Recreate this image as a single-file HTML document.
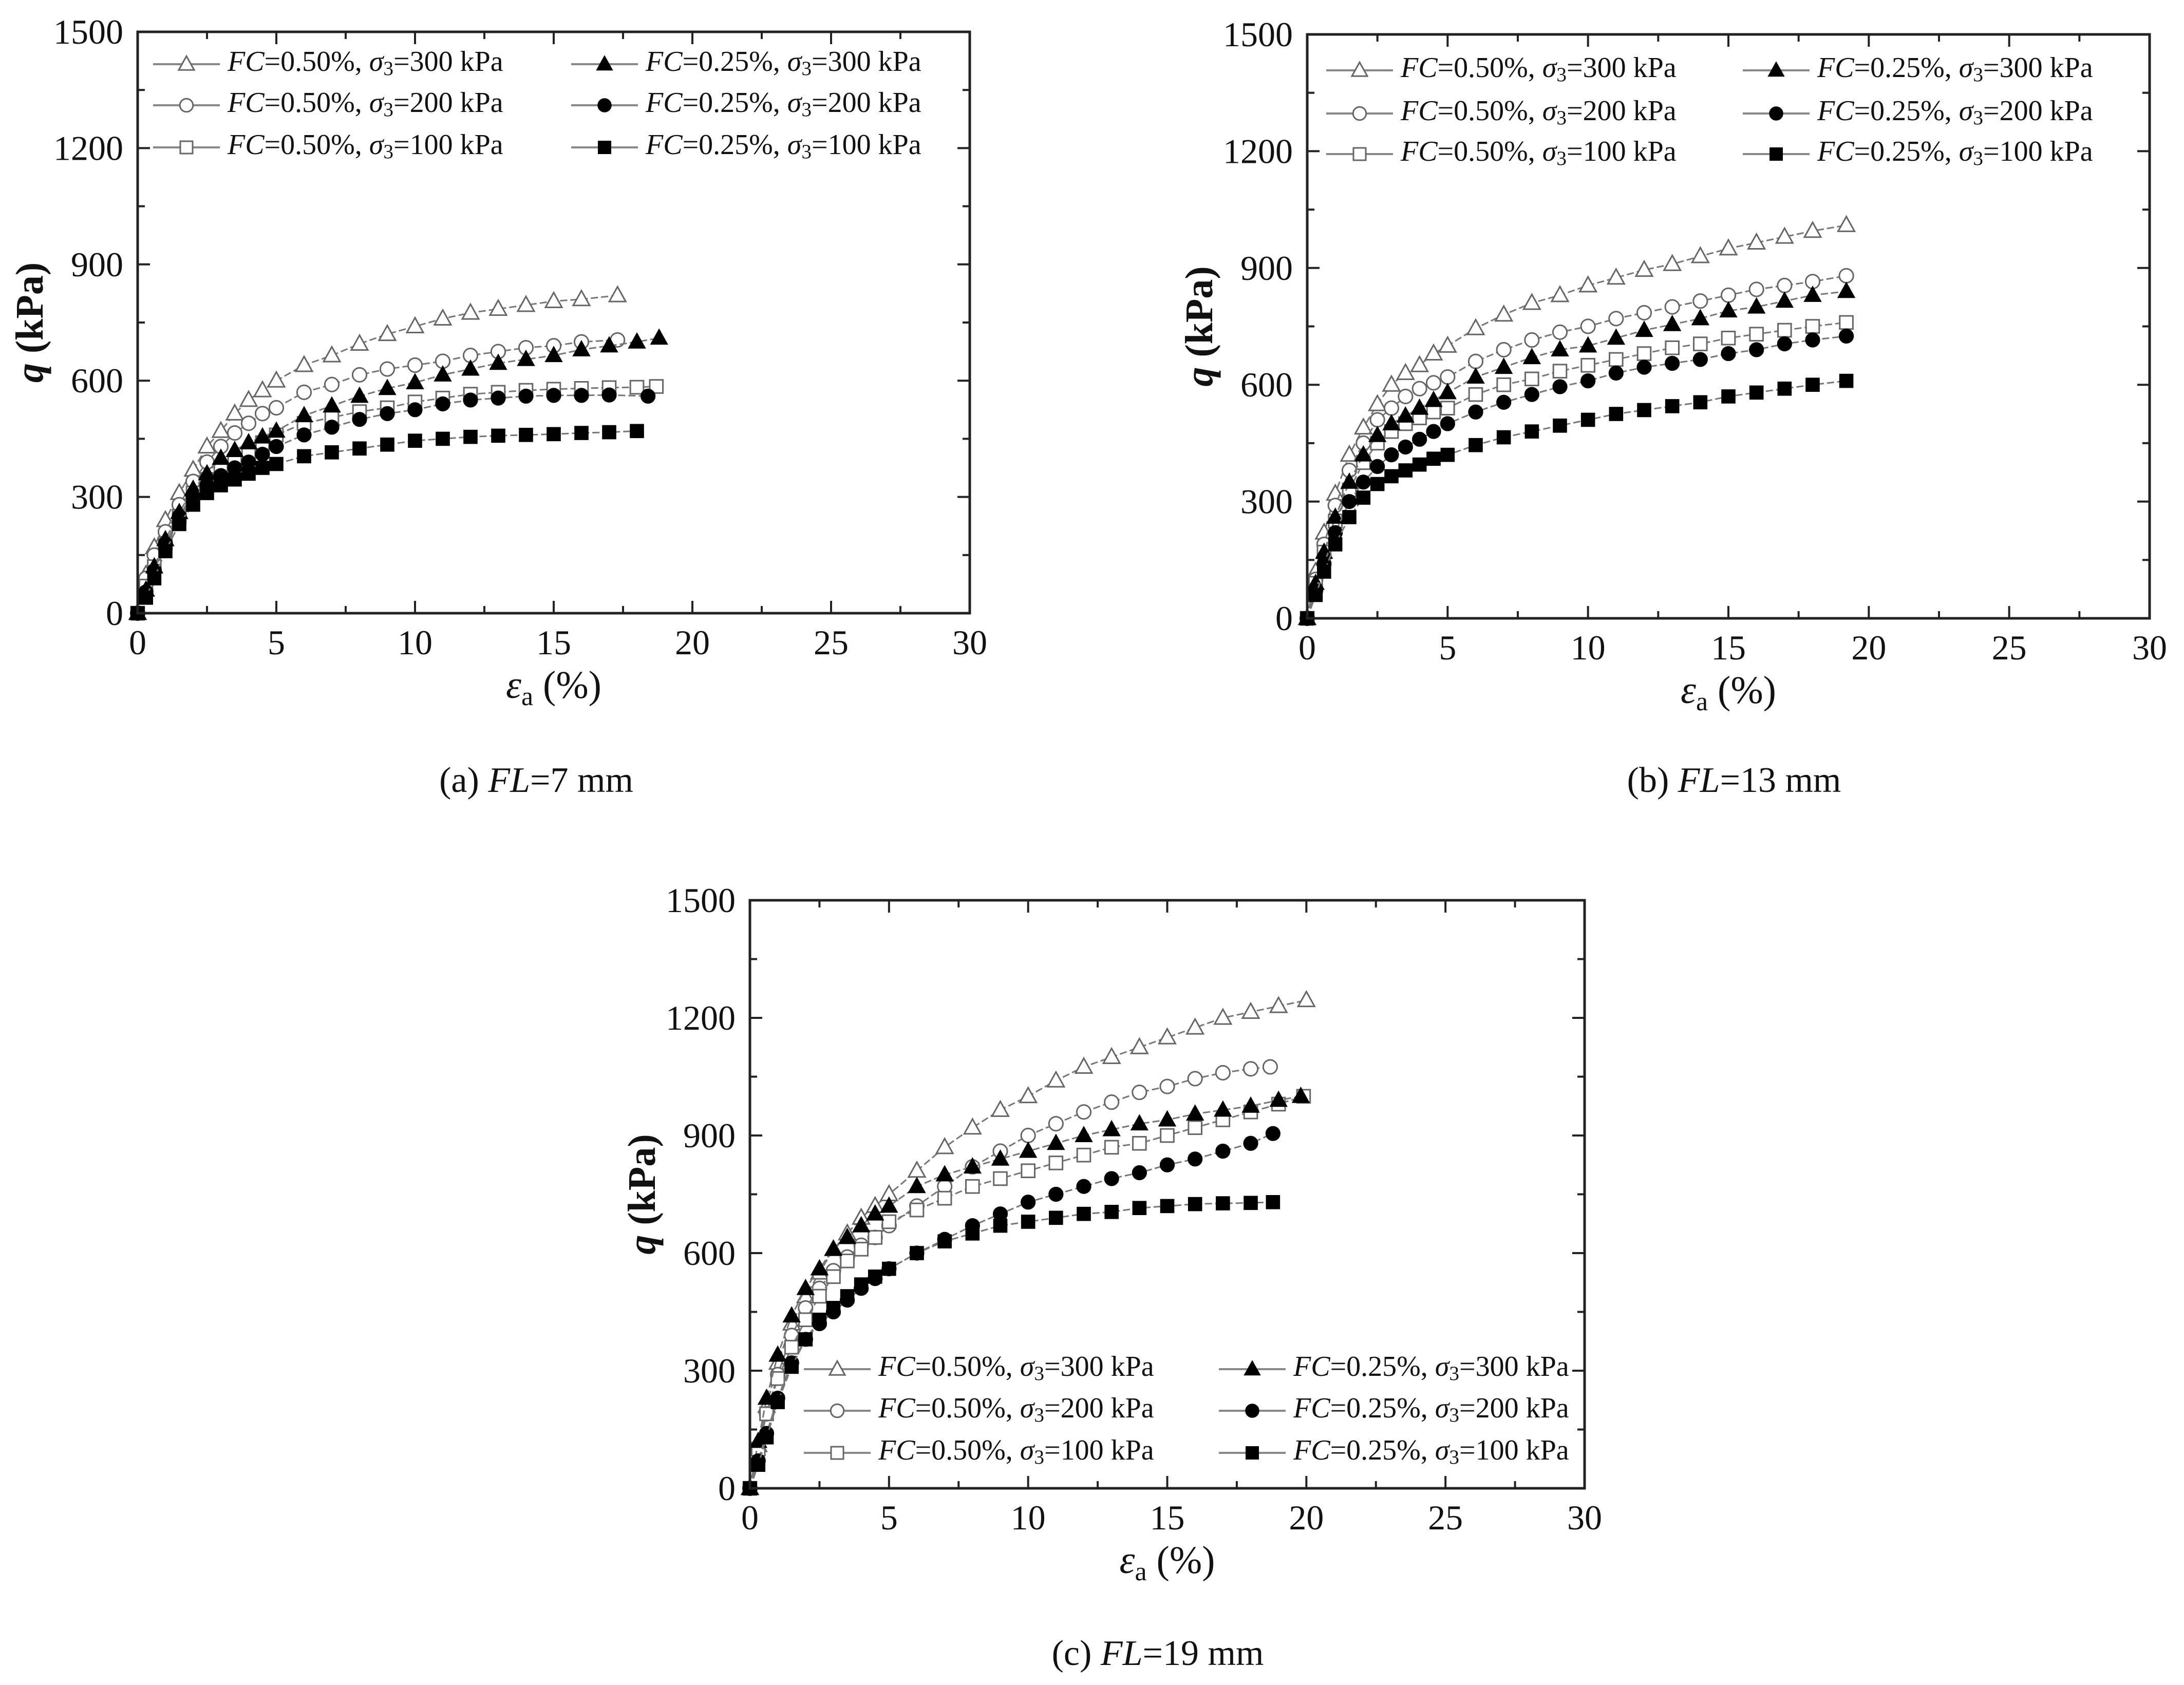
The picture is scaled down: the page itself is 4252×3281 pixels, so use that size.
<!DOCTYPE html>
<html><head><meta charset="utf-8"><style>
html,body{margin:0;padding:0;background:#fff;}
svg, svg text{font-family:"Liberation Serif","Times New Roman",serif;}
</style></head><body>
<svg id="fig" width="4252" height="3276" viewBox="0 0 4252 3276" xmlns="http://www.w3.org/2000/svg" font-family="Liberation Serif, serif"></svg>
<script>
// ---- data ----
const xTicks = [0,5,10,15,20,25,30];
const yTicks = [0,300,600,900,1200,1500];
const seriesNames = ["FC=0.50%, σ3=300 kPa","FC=0.50%, σ3=200 kPa","FC=0.50%, σ3=100 kPa","FC=0.25%, σ3=300 kPa","FC=0.25%, σ3=200 kPa","FC=0.25%, σ3=100 kPa"];
// chart (a) FL=7 mm
const a300_50x = [0,0.3,0.6,1,1.5,2,2.5,3,3.5,4,4.5,5,6,7,8,9,10,11,12,13,14,15,16,17.3];
const a300_50y = [0,100,170,240,310,370,430,470,515,550,575,600,640,665,695,720,740,760,775,785,795,805,810,820];
const a200_50x = [0,0.3,0.6,1,1.5,2,2.5,3,3.5,4,4.5,5,6,7,8,9,10,11,12,13,14,15,16,17.3];
const a200_50y = [0,90,150,210,280,340,390,430,465,490,515,530,570,590,615,630,640,650,665,675,685,690,700,705];
const a100_50x = [0,0.3,0.6,1,1.5,2,2.5,3,3.5,4,4.5,5,6,7,8,9,10,11,12,13,14,15,16,17,18,18.7];
const a100_50y = [0,70,120,180,250,310,345,370,390,410,440,460,490,505,520,530,545,555,565,570,575,578,580,582,583,585];
const a300_25x = [0,0.3,0.6,1,1.5,2,2.5,3,3.5,4,4.5,5,6,7,8,9,10,11,12,13,14,15,16,17,18,18.8];
const a300_25y = [0,60,120,190,260,320,360,400,420,440,455,470,510,535,560,580,595,615,630,645,655,665,680,690,700,710];
const a200_25x = [0,0.3,0.6,1,1.5,2,2.5,3,3.5,4,4.5,5,6,7,8,9,10,11,12,13,14,15,16,17,18.4];
const a200_25y = [0,55,110,180,250,300,330,355,375,390,410,430,460,480,500,515,525,540,550,555,560,562,562,563,560];
const a100_25x = [0,0.3,0.6,1,1.5,2,2.5,3,3.5,4,4.5,5,6,7,8,9,10,11,12,13,14,15,16,17,18];
const a100_25y = [0,40,90,160,230,280,310,330,345,360,375,385,405,415,425,435,445,450,455,458,460,462,465,467,470];
// chart (b) FL=13 mm
const bX = [0,0.3,0.6,1,1.5,2,2.5,3,3.5,4,4.5,5,6,7,8,9,10,11,12,13,14,15,16,17,18,19.2];
const b300_50y = [0,120,220,320,420,490,550,600,630,650,680,700,745,780,810,830,855,875,895,910,930,950,965,980,995,1010];
const b200_50y = [0,100,190,290,380,450,510,540,570,590,605,620,660,690,715,735,750,770,785,800,815,830,845,855,865,880];
const b100_50y = [0,90,170,250,330,400,450,480,500,515,530,540,575,600,615,635,650,665,680,695,705,720,730,740,750,760];
const b300_25y = [0,90,170,260,350,420,470,500,520,540,560,580,620,645,670,690,700,720,740,755,770,790,800,815,830,840];
const b200_25y = [0,70,140,220,300,350,390,420,440,460,480,500,530,555,575,595,610,630,645,655,665,680,690,705,715,725];
const b100_25y = [0,60,120,190,260,310,345,365,380,395,410,420,445,465,480,495,510,525,535,545,555,570,580,590,600,610];
// chart (c) FL=19 mm
const c300_50x = [0,0.3,0.6,1,1.5,2,2.5,3,3.5,4,4.5,5,6,7,8,9,10,11,12,13,14,15,16,17,18,19,20];
const c300_50y = [0,110,210,320,420,490,550,610,650,690,720,750,810,870,920,965,1000,1040,1075,1100,1125,1150,1175,1200,1215,1230,1245];
const c200_50x = [0,0.3,0.6,1,1.5,2,2.5,3,3.5,4,4.5,5,6,7,8,9,10,11,12,13,14,15,16,17,18,18.7];
const c200_50y = [0,100,190,290,390,460,510,555,590,620,640,670,720,770,820,860,900,930,960,985,1010,1025,1045,1060,1070,1075];
const c100_50x = [0,0.3,0.6,1,1.5,2,2.5,3,3.5,4,4.5,5,6,7,8,9,10,11,12,13,14,15,16,17,18,19,19.9];
const c100_50y = [0,100,190,280,360,430,490,540,580,610,640,680,710,740,770,790,810,830,850,870,880,900,920,940,960,980,1000];
const c300_25x = [0,0.3,0.6,1,1.5,2,2.5,3,3.5,4,4.5,5,6,7,8,9,10,11,12,13,14,15,16,17,18,19,19.8];
const c300_25y = [0,120,230,340,440,510,560,610,640,670,700,720,770,800,820,840,860,880,900,915,930,940,955,965,975,990,1000];
const c200_25x = [0,0.3,0.6,1,1.5,2,2.5,3,3.5,4,4.5,5,6,7,8,9,10,11,12,13,14,15,16,17,18,18.8];
const c200_25y = [0,70,140,230,320,380,420,450,480,510,535,560,600,635,670,700,730,750,770,790,805,825,840,860,880,905];
const c100_25x = [0,0.3,0.6,1,1.5,2,2.5,3,3.5,4,4.5,5,6,7,8,9,10,11,12,13,14,15,16,17,18,18.8];
const c100_25y = [0,60,130,220,310,380,430,460,490,520,540,560,600,630,650,670,680,690,700,705,715,720,725,727,728,730];

const NS="http://www.w3.org/2000/svg";
const FONT='"Liberation Serif", serif';
const fig=document.getElementById('fig');
function mk(tag,attrs,parent){const e=document.createElementNS(NS,tag);for(const k in attrs)e.setAttribute(k,attrs[k]);if(tag==='text'){e.setAttribute('font-family',FONT);}(parent||fig).appendChild(e);return e;}

const markers=["tri","circ","sq","tri","circ","sq"];
const filled=[false,false,false,true,true,true];

function marker(g,type,fill,cx,cy,r){
  const st=fill?{fill:"#000",stroke:"#000","stroke-width":2}:{fill:"#fff",stroke:"#666","stroke-width":3};
  let e;
  if(type==="tri"){e=mk('polygon',Object.assign({points:`${cx},${cy-r*1.05} ${cx-r},${cy+r*0.75} ${cx+r},${cy+r*0.75}`},st),g);}
  else if(type==="circ"){e=mk('circle',Object.assign({cx:cx,cy:cy,r:r*0.85},st),g);}
  else {e=mk('rect',Object.assign({x:cx-r*0.8,y:cy-r*0.8,width:r*1.6,height:r*1.6},st),g);}
  return e;
}

function legendText(g,x,y,i,fs){
  const t=mk('text',{x:x,y:y,"font-size":fs,fill:"#111","dominant-baseline":"middle"},g);
  
  
  const fc=i<3?"0.50%":"0.25%";const s=["300","200","100"][i%3];
  t.innerHTML=`<tspan font-style="italic">FC</tspan>=${fc}, <tspan font-style="italic">σ</tspan><tspan font-size="${fs*0.7}" dy="12">3</tspan><tspan dy="-12">=${s} kPa</tspan>`;
}

function chart(cfg){
  const g=mk('g',{});
  
  
  const L=cfg.L,R=cfg.R,T=cfg.T,B=cfg.B;
  const sx=v=>L+(v-0)/(30-0)*(R-L);
  const sy=v=>B-(v-0)/(1500-0)*(B-T);
  cfg.series.forEach((s,i)=>{
    const sg=mk('g',{},g);
    
    
    const pts=s.x.map((xv,k)=>sx(xv)+','+sy(s.y[k])).join(' ');
    mk('polyline',{points:pts,fill:"none",stroke:"#777","stroke-width":3,"stroke-dasharray":"14,6"},sg);
    s.x.forEach((xv,k)=>{
      const m=marker(sg,markers[i],filled[i],sx(xv),sy(s.y[k]),16);
      
      
    });
  });
  const fr=mk('rect',{x:L,y:T,width:R-L,height:B-T,fill:"none",stroke:"#222","stroke-width":5},g);
  
  
  for(let v=0;v<=30;v+=2.5){const X=sx(v);const len=(v%5===0)?24:14;
    mk('line',{x1:X,y1:B,x2:X,y2:B-len,stroke:"#222","stroke-width":4},g);
    mk('line',{x1:X,y1:T,x2:X,y2:T+len,stroke:"#222","stroke-width":4},g);}
  for(let v=0;v<=1500;v+=150){const Y=sy(v);const len=(v%300===0)?24:14;
    mk('line',{x1:L,y1:Y,x2:L+len,y2:Y,stroke:"#222","stroke-width":4},g);
    mk('line',{x1:R,y1:Y,x2:R-len,y2:Y,stroke:"#222","stroke-width":4},g);}
  xTicks.forEach(v=>{const t=mk('text',{x:sx(v),y:B+80,"font-size":68,"text-anchor":"middle",fill:"#111"},g);t.textContent=v;
    });
  yTicks.forEach(v=>{const t=mk('text',{x:L-28,y:sy(v)+23,"font-size":68,"text-anchor":"end",fill:"#111"},g);t.textContent=v;
    });
  const xt=mk('text',{x:(L+R)/2,y:B+165,"font-size":76,"text-anchor":"middle",fill:"#111"},g);
  xt.innerHTML='<tspan font-style="italic">ε</tspan><tspan font-size="52" dy="14">a</tspan><tspan dy="-14"> (%)</tspan>';
  
  const yt=mk('text',{x:0,y:0,"font-size":76,"text-anchor":"middle",fill:"#111","font-weight":"bold",transform:`translate(${L-185},${(T+B)/2}) rotate(-90)`},g);
  yt.innerHTML='<tspan font-style="italic">q</tspan> (kPa)';
  
  const lg=mk('g',{},g);
  
  
  for(let i=0;i<6;i++){
    const col=i<3?0:1,row=i%3;
    const lx=cfg.legX[col],ly=cfg.legY[row];
    mk('line',{x1:lx,y1:ly,x2:lx+130,y2:ly,stroke:"#888","stroke-width":4},lg);
    marker(lg,markers[i],filled[i],lx+65,ly,15);
    legendText(lg,lx+145,ly,i,56);
  }
  const cap=mk('text',{x:cfg.capX,y:cfg.capY,"font-size":70,"text-anchor":"middle",fill:"#111"});
  cap.innerHTML=cfg.cap;
  
}

chart({name:'chart-a',L:268,R:1888,T:62,B:1194,legX:[298,1112],legY:[125,205,287],capX:1044,capY:1542,
  cap:'(a) <tspan font-style="italic">FL</tspan>=7 mm',
  series:[{x:a300_50x,y:a300_50y},{x:a200_50x,y:a200_50y},{x:a100_50x,y:a100_50y},{x:a300_25x,y:a300_25y},{x:a200_25x,y:a200_25y},{x:a100_25x,y:a100_25y}]});
chart({name:'chart-b',L:2545,R:4185,T:67,B:1204,legX:[2582,3393],legY:[137,221,300],capX:3376,capY:1542,
  cap:'(b) <tspan font-style="italic">FL</tspan>=13 mm',
  series:[{x:bX,y:b300_50y},{x:bX,y:b200_50y},{x:bX,y:b100_50y},{x:bX,y:b300_25y},{x:bX,y:b200_25y},{x:bX,y:b100_25y}]});
chart({name:'chart-c',L:1460,R:3085,T:1753,B:2898,legX:[1565,2373],legY:[2666,2747,2829],capX:2254,capY:3242,
  cap:'(c) <tspan font-style="italic">FL</tspan>=19 mm',
  series:[{x:c300_50x,y:c300_50y},{x:c200_50x,y:c200_50y},{x:c100_50x,y:c100_50y},{x:c300_25x,y:c300_25y},{x:c200_25x,y:c200_25y},{x:c100_25x,y:c100_25y}]});
</script>
</body></html>
